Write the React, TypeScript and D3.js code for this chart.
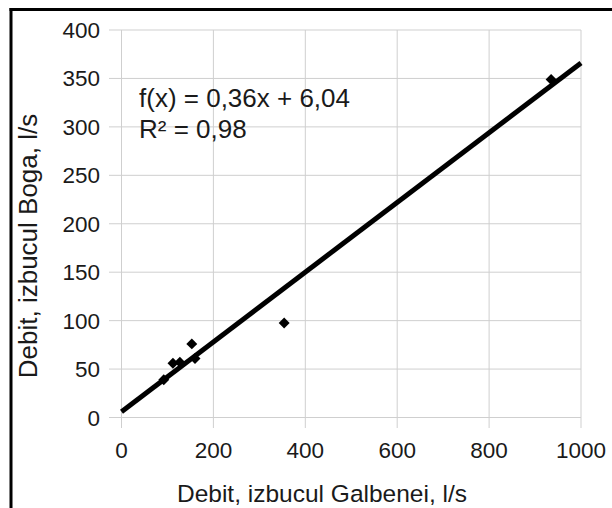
import React from "react";
import * as d3 from "d3";

const xValues = [92, 112, 127, 153, 160, 354, 935];
const yValues = [39, 56, 57, 76, 61, 97.5, 349];
const xTicks = [0, 200, 400, 600, 800, 1000];
const yTicks = [0, 50, 100, 150, 200, 250, 300, 350, 400];
const slope = 0.36;
const intercept = 6.04;
const equationText = "f(x) = 0,36x + 6,04";
const r2Text = "R² = 0,98";
const xTitle = "Debit, izbucul Galbenei, l/s";
const yTitle = "Debit, izbucul Boga, l/s";

const W = 612;
const H = 508;
const FONT = "'Liberation Sans', Arial, sans-serif";

export default function App() {
  const x = d3.scaleLinear().domain([0, 1000]).range([121.5, 581]);
  const y = d3.scaleLinear().domain([0, 400]).range([417.5, 30]);
  const diamond = d3.symbol(d3.symbolSquare, 60)() as string;
  const line = d3.line<number>().x((d) => x(d)).y((d) => y(slope * d + intercept));
  const points = xValues.map((v, i) => [v, yValues[i]]);
  return (
    <svg width={W} height={H} style={{ position: "absolute", left: 0, top: 0, background: "#fff" }}>
      <rect x={0} y={0} width={W} height={H} fill="#fff" />
      {yTicks.map((t) => (
        <line key={"gy" + t} x1={109} x2={581} y1={y(t)} y2={y(t)} stroke="#cfcfcf" strokeWidth={1} />
      ))}
      {xTicks.map((t) => (
        <line key={"gx" + t} x1={x(t)} x2={x(t)} y1={30} y2={428} stroke="#cfcfcf" strokeWidth={1} />
      ))}
      {yTicks.map((t) => (
        <text key={"ly" + t} x={100} y={y(t) + 8} textAnchor="end" fontFamily={FONT} fontSize={22.5} fill="#1a1a1a">
          {t}
        </text>
      ))}
      {xTicks.map((t) => (
        <text key={"lx" + t} x={x(t)} y={457.5} textAnchor="middle" fontFamily={FONT} fontSize={22.5} fill="#1a1a1a">
          {t}
        </text>
      ))}
      <path d={line([0, 1000]) as string} stroke="#000" strokeWidth={5} fill="none" />
      {points.map((p, i) => (
        <path key={"p" + i} d={diamond} transform={`translate(${x(p[0])},${y(p[1])}) rotate(45)`} fill="#000" />
      ))}
      <text x={139} y={106.5} fontFamily={FONT} fontSize={26} fill="#1a1a1a">{equationText}</text>
      <text x={139} y={138} fontFamily={FONT} fontSize={26} fill="#1a1a1a">{r2Text}</text>
      <text x={322} y={502} textAnchor="middle" fontFamily={FONT} fontSize={24.5} fill="#1a1a1a">{xTitle}</text>
      <text transform={`translate(37,246) rotate(-90)`} textAnchor="middle" fontFamily={FONT} fontSize={26} fill="#1a1a1a">
        {yTitle}
      </text>
      <line x1={11} x2={11} y1={8} y2={H} stroke="#000" strokeWidth={3} />
      <line x1={9.5} x2={W} y1={9.6} y2={9.6} stroke="#000" strokeWidth={3} />
    </svg>
  );
}
